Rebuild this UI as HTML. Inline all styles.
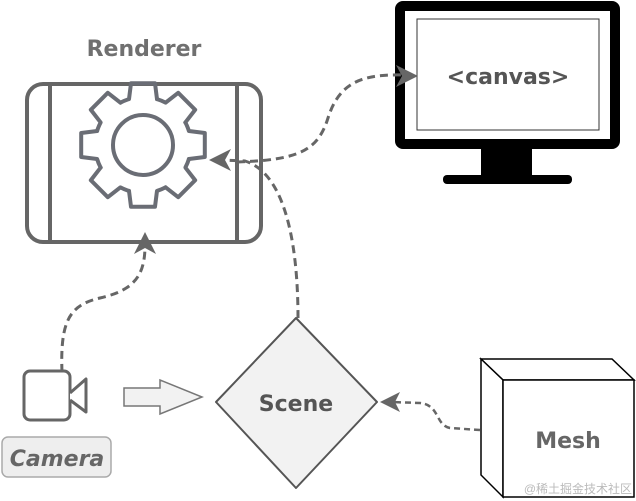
<!DOCTYPE html>
<html><head><meta charset="utf-8"><style>
html,body{margin:0;padding:0;background:#fff;}
svg{display:block;}
text{font-family:"DejaVu Sans","Liberation Sans",sans-serif;font-weight:bold;}
</style></head><body>
<svg width="636" height="501" viewBox="0 0 636 501" xmlns="http://www.w3.org/2000/svg">
<!-- Renderer -->
<text x="144" y="56" font-size="22" fill="#707070" text-anchor="middle">Renderer</text>
<rect x="27" y="84" width="234" height="158" rx="16" fill="#fff" stroke="#666" stroke-width="4"/>
<line x1="50" y1="85" x2="50" y2="241" stroke="#666" stroke-width="4"/>
<line x1="237" y1="85" x2="237" y2="241" stroke="#666" stroke-width="4"/>
<g transform="translate(143,145)" fill="none" stroke="#6a6d75" stroke-width="4" stroke-linejoin="round" stroke-linecap="round">
<g id="t"><path d="M-22.5,-42.4 A48,48 0 0 1 -14,-45.9 L-12,-61.8 L12,-61.8 L14,-45.9"/></g>
<use href="#t" transform="rotate(45)"/><use href="#t" transform="rotate(90)"/><use href="#t" transform="rotate(135)"/>
<use href="#t" transform="rotate(180)"/><use href="#t" transform="rotate(225)"/><use href="#t" transform="rotate(270)"/><use href="#t" transform="rotate(315)"/>
<circle r="30"/>
</g>
<!-- Monitor -->
<rect x="400" y="6" width="215" height="138" rx="3" fill="#fff" stroke="#000" stroke-width="10"/>
<rect x="417" y="19" width="182" height="111" fill="#fff" stroke="#333" stroke-width="1"/>
<rect x="481" y="148" width="51" height="28" fill="#000"/>
<rect x="443" y="175" width="129" height="9" rx="4" fill="#000"/>
<text x="508" y="84" font-size="22" fill="#555" text-anchor="middle">&lt;canvas&gt;</text>
<!-- Dashed connectors -->
<g fill="none" stroke="#666" stroke-width="3" stroke-dasharray="8,5">
<path d="M62,372 C60,320 70,305 100,298 C135,290 145,275 145,245"/>
<path d="M298,318 C298,260 290,175 245,161 L222,160"/>
<path d="M237,162 C300,160 318,150 328,118 C340,80 365,74 405,75"/>
<path d="M480,430 L450,428 C435,425 440,405 420,403 L392,402" stroke-width="2.5" stroke-dasharray="6,4"/>
</g>
<g fill="#666">
<path d="M145,232 L156,254 L145,248 L134,254 Z"/>
<path d="M209,160 L231,149 L225,160 L231,171 Z"/>
<path d="M418,76 L396,65 L402,76 L396,87 Z"/>
<path d="M380,402 L400,392 L395,402 L400,412 Z"/>
</g>
<!-- Camera -->
<rect x="24" y="371" width="46" height="49" rx="6" fill="#fff" stroke="#666" stroke-width="3"/>
<path d="M70,393 L86,379 L86,412 L70,400" fill="#fff" stroke="#666" stroke-width="3" stroke-linejoin="round"/>
<rect x="2" y="437" width="109" height="40" rx="6" fill="#eee" stroke="#aaa" stroke-width="1.5"/>
<text x="57" y="466" font-size="22" font-style="italic" fill="#666" text-anchor="middle">Camera</text>
<!-- block arrow -->
<path d="M124,388 L160,388 L160,380 L202,397 L160,414 L160,406 L124,406 Z" fill="#f2f2f2" stroke="#777" stroke-width="1.5"/>
<!-- Scene -->
<path d="M296,318 L377,402 L296,488 L216,402 Z" fill="#f2f2f2" stroke="#555" stroke-width="2" stroke-linejoin="round"/>
<text x="296" y="411" font-size="22" fill="#555" text-anchor="middle">Scene</text>
<!-- Mesh -->
<path d="M481,359 L612,359 L634,380 L503,380 Z" fill="#fff" stroke="#000" stroke-width="1.5"/>
<path d="M481,359 L503,380 L503,497 L481,475 Z" fill="#fff" stroke="#000" stroke-width="1.5"/>
<rect x="503" y="380" width="131" height="117" fill="#fff" stroke="#000" stroke-width="1.5"/>
<text x="568" y="448" font-size="22" fill="#666" text-anchor="middle">Mesh</text>
<text x="632" y="493" font-size="12" fill="#bbb" text-anchor="end" style="font-family:'Liberation Sans','Noto Sans CJK SC',sans-serif;font-weight:normal">@稀土掘金技术社区</text>
</svg>
</body></html>
